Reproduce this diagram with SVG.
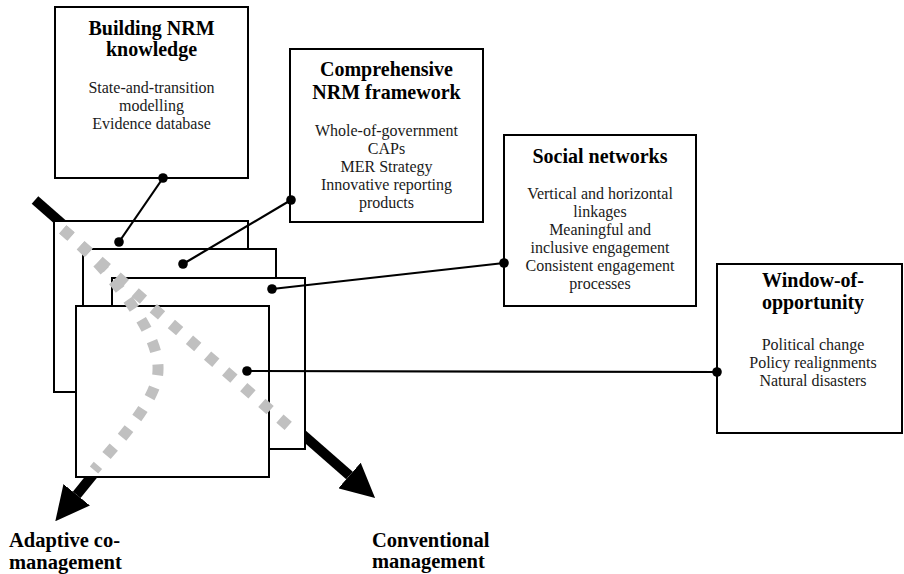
<svg xmlns="http://www.w3.org/2000/svg" width="904" height="574" viewBox="0 0 904 574">
<defs>
<style>
.box{fill:#fff;stroke:#000;stroke-width:2}
.sheet{fill:#fff;stroke:#000;stroke-width:2}
.t{font-family:"Liberation Serif","Times New Roman",serif;font-weight:bold;font-size:20px;text-anchor:middle;fill:#000}
.b{font-family:"Liberation Serif","Times New Roman",serif;font-size:16px;text-anchor:middle;fill:#1a1a1a}
.lbl{font-family:"Liberation Serif","Times New Roman",serif;font-weight:bold;font-size:20.5px;fill:#000}
.conn{stroke:#000;stroke-width:2.2;fill:none}
.dot{fill:#000}
.big{stroke:#000;stroke-width:10;fill:none}
.grey{stroke:#c0c0c0;stroke-width:11;fill:none;stroke-dasharray:11 13}
</style>
<marker id="ah" markerUnits="userSpaceOnUse" markerWidth="34" markerHeight="34" viewBox="0 0 34 34" refX="0" refY="17" orient="auto">
<path d="M0,0 L34,17 L0,34 Z" fill="#000"/>
</marker>
</defs>
<g id="trajectories">
<line class="big" x1="35" y1="200" x2="349.5" y2="475.5" marker-end="url(#ah)"/>
<line class="big" x1="100" y1="466" x2="76.7" y2="494.8" marker-end="url(#ah)"/>
</g>
<g id="sheets">
<rect class="sheet" x="54" y="221" width="194" height="171"/>
<rect class="sheet" x="83" y="249" width="193" height="171"/>
<rect class="sheet" x="112" y="278" width="193" height="171"/>
<rect class="sheet" x="76" y="306" width="193" height="171"/>
</g>
<g id="paths-dotted">
<line class="grey" x1="62.8" y1="229.4" x2="289" y2="426.5"/>
<path class="grey" d="M62.8,229.4 L67,233 C104.7,265.9 160,330 158,370 C158,400 116,444 94,470"/>
</g>
<g id="node-building">
<rect class="box" x="55" y="7" width="193" height="171"/>
<text class="t" x="151.5" y="35">Building NRM</text>
<text class="t" x="151.5" y="56">knowledge</text>
<text class="b" x="151.5" y="93">State-and-transition</text>
<text class="b" x="151.5" y="111">modelling</text>
<text class="b" x="151.5" y="129">Evidence database</text>
</g>
<g id="node-framework">
<rect class="box" x="290" y="49" width="193" height="173"/>
<text class="t" x="386.5" y="76">Comprehensive</text>
<text class="t" x="386.5" y="99">NRM framework</text>
<text class="b" x="386.5" y="136">Whole-of-government</text>
<text class="b" x="386.5" y="154">CAPs</text>
<text class="b" x="386.5" y="172">MER Strategy</text>
<text class="b" x="386.5" y="190">Innovative reporting</text>
<text class="b" x="386.5" y="208">products</text>
</g>
<g id="node-social">
<rect class="box" x="504" y="135" width="192" height="171"/>
<text class="t" x="600" y="163">Social networks</text>
<text class="b" x="600" y="199">Vertical and horizontal</text>
<text class="b" x="600" y="217">linkages</text>
<text class="b" x="600" y="235">Meaningful and</text>
<text class="b" x="600" y="253">inclusive engagement</text>
<text class="b" x="600" y="271">Consistent engagement</text>
<text class="b" x="600" y="289">processes</text>
</g>
<g id="node-window">
<rect class="box" x="717" y="264" width="185" height="169"/>
<text class="t" x="813" y="287">Window-of-</text>
<text class="t" x="813" y="309">opportunity</text>
<text class="b" x="813" y="350">Political change</text>
<text class="b" x="813" y="368">Policy realignments</text>
<text class="b" x="813" y="386">Natural disasters</text>
</g>
<g id="connectors">
<line class="conn" x1="163" y1="178" x2="119" y2="242"/>
<circle class="dot" cx="163" cy="178" r="4.8"/>
<circle class="dot" cx="119" cy="242" r="4.8"/>
<line class="conn" x1="291" y1="200" x2="183" y2="264"/>
<circle class="dot" cx="291" cy="200" r="4.8"/>
<circle class="dot" cx="183" cy="264" r="4.8"/>
<line class="conn" x1="504" y1="263" x2="272" y2="289"/>
<circle class="dot" cx="504" cy="263" r="4.8"/>
<circle class="dot" cx="272" cy="289" r="4.8"/>
<line class="conn" x1="717" y1="372" x2="247" y2="371"/>
<circle class="dot" cx="717" cy="372" r="4.8"/>
<circle class="dot" cx="247" cy="371" r="4.8"/>
</g>
<g id="label-adaptive">
<text class="lbl" x="9" y="547">Adaptive co-</text>
<text class="lbl" x="9" y="569">management</text>
</g>
<g id="label-conventional">
<text class="lbl" x="372" y="547">Conventional</text>
<text class="lbl" x="372" y="568">management</text>
</g>
</svg>
